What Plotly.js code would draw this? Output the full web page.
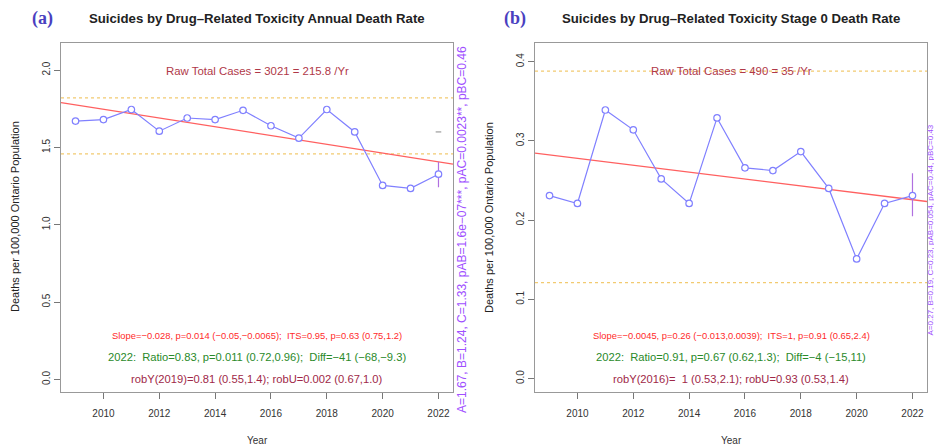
<!DOCTYPE html>
<html><head><meta charset="utf-8">
<script src="https://cdn.plot.ly/plotly-3.0.1.min.js"></script>
<style>html,body{margin:0;padding:0;background:#fff;}#chart{width:934px;height:446px;}</style>
</head><body><div id="chart"></div>
<script>
// ---- data ----
const years = [2009,2010,2011,2012,2013,2014,2015,2016,2017,2018,2019,2020,2021,2022];
const annualRate = [1.67,1.68,1.745,1.605,1.69,1.68,1.74,1.64,1.56,1.745,1.60,1.254,1.235,1.327];
const stage0Rate = [0.231,0.221,0.339,0.314,0.252,0.221,0.329,0.266,0.2625,0.2865,0.240,0.151,0.221,0.231];
const trendYears = [2008.48, 2022.52];
const annualTrend = [1.79, 1.392];
const stage0Trend = [0.2845, 0.2235];
const annualBands = [1.82, 1.458];
const stage0Bands = [0.388, 0.121];
const ciYear = [2022, 2022];
const annualCI2022 = [1.243, 1.405];
const stage0CI2022 = [0.205, 0.259];
const annualExpected2022 = [1.60];
const xTickVals = [2010,2012,2014,2016,2018,2020,2022];
const annualYTicks = [0.0,0.5,1.0,1.5,2.0];
const annualYLabels = ["0.0","0.5","1.0","1.5","2.0"];
const stage0YTicks = [0.0,0.1,0.2,0.3,0.4];
const stage0YLabels = ["0.0","0.1","0.2","0.3","0.4"];

const titles = ["Suicides by Drug\u2013Related Toxicity Annual Death Rate",
                "Suicides by Drug\u2013Related Toxicity Stage 0 Death Rate"];
const panelLabels = ["(a)", "(b)"];
const rawText = ["Raw Total Cases = 3021 = 215.8 /Yr", "Raw Total Cases = 490 = 35 /Yr"];
const slopeText = ["Slope=\u22120.028, p=0.014 (\u22120.05,\u22120.0065);  ITS=0.95, p=0.63 (0.75,1.2)",
                   "Slope=\u22120.0045, p=0.26 (\u22120.013,0.0039);  ITS=1, p=0.91 (0.65,2.4)"];
const ratioText = ["2022:  Ratio=0.83, p=0.011 (0.72,0.96);  Diff=\u221241 (\u221268,\u22129.3)",
                   "2022:  Ratio=0.91, p=0.67 (0.62,1.3);  Diff=\u22124 (\u221215,11)"];
const robText = ["robY(2019)=0.81 (0.55,1.4); robU=0.002 (0.67,1.0)",
                 "robY(2016)=  1 (0.53,2.1); robU=0.93 (0.53,1.4)"];
const sideText = ["A=1.67, B=1.24, C=1.33, pAB=1.6e\u221207***, pAC=0.0023**, pBC=0.46",
                  "A=0.27, B=0.19, C=0.23, pAB=0.054, pAC=0.44, pBC=0.43"];

// ---- geometry helpers ----
const W = 934, H = 446;
const px = v => v / W;
const py = v => 1 - v / H;

const ptColor = '#8080ff';
const traces = [];
function panel(xa, ya, vals, trend, bands, ci) {
  bands.forEach(b => traces.push({x: trendYears, y: [b, b], xaxis: xa, yaxis: ya, mode: 'lines',
    line: {color: '#f2ca70', width: 1.2, dash: 'dot'}, hoverinfo: 'skip', showlegend: false}));
  traces.push({x: trendYears, y: trend, xaxis: xa, yaxis: ya, mode: 'lines',
    line: {color: '#ff6060', width: 1.3}, showlegend: false});
  traces.push({x: ciYear, y: ci, xaxis: xa, yaxis: ya, mode: 'lines',
    line: {color: '#b070e0', width: 1.2}, showlegend: false});
  traces.push({x: years, y: vals, xaxis: xa, yaxis: ya, mode: 'lines+markers',
    line: {color: ptColor, width: 1.2},
    marker: {symbol: 'circle', size: 6.5, color: '#ffffff', line: {color: ptColor, width: 1.2}},
    showlegend: false});
}
panel('x', 'y', annualRate, annualTrend, annualBands, annualCI2022);
panel('x2', 'y2', stage0Rate, stage0Trend, stage0Bands, stage0CI2022);
traces.push({x: [2022], y: annualExpected2022, xaxis: 'x', yaxis: 'y', mode: 'markers',
  marker: {symbol: 'line-ew', size: 4, line: {color: '#888', width: 1}}, showlegend: false});

const yDom = [py(391.5), py(43)];
function xa(l, r) {
  return {domain: [px(l), px(r)], range: [2008.48, 2022.52], tickmode: 'array', tickvals: xTickVals,
    ticks: 'outside', ticklen: 6, tickcolor: '#777', showline: true, mirror: true,
    linecolor: '#999', linewidth: 1.3, showgrid: false, zeroline: false,
    tickfont: {family: 'Liberation Sans, Arial', size: 10, color: '#333'}, ticklabelstandoff: 6};
}
function ya(rng, tv, tt, anchor) {
  return {domain: yDom, range: rng, tickmode: 'array', tickvals: tv, ticktext: tt, tickangle: -90,
    ticks: 'outside', ticklen: 6, tickcolor: '#777', showline: true, mirror: true,
    linecolor: '#999', linewidth: 1.3, showgrid: false, zeroline: false, anchor: anchor,
    tickfont: {family: 'Liberation Sans, Arial', size: 10, color: '#333'}};
}

const ann = [];
const centers = [257, 731];
const F = 'Liberation Sans, Arial, sans-serif';
function t(x, y, text, size, color, extra) {
  ann.push(Object.assign({xref: 'paper', yref: 'paper', x: px(x), y: py(y), text: text,
    showarrow: false, xanchor: 'center', yanchor: 'middle',
    font: {family: F, size: size, color: color}}, extra || {}));
}
for (let i = 0; i < 2; i++) {
  const c = centers[i];
  t(c, 18, '<b>' + titles[i] + '</b>', 13.2, '#222');
  t(i === 0 ? 42 : 515, 18, '<b>' + panelLabels[i] + '</b>', 18, '#4040c0',
    {font: {family: 'Liberation Serif, DejaVu Serif, serif', size: 18, color: '#4a3fc0'}});
  t(c, 70.5, rawText[i], 11.4, '#b03848');
  t(c, 335, slopeText[i], 9.4, '#ff2a2a');
  t(c, 356.5, ratioText[i], 11.2, '#2a8a2a');
  t(c, 379, robText[i], 11.2, '#a02848');
  t(c, 440, 'Year', 10, '#333');
  t(i === 0 ? 15 : 489, 217, 'Deaths per 100,000 Ontario Population', 11, '#222', {textangle: -90});
}
t(462, 230, sideText[0], 12, '#a050ff', {textangle: -90});
t(929.5, 230, sideText[1], 8, '#a050ff', {textangle: -90});

const layout = {
  width: W, height: H, margin: {l: 0, r: 0, t: 0, b: 0},
  paper_bgcolor: '#fff', plot_bgcolor: '#fff', showlegend: false,
  xaxis: Object.assign(xa(61, 453), {anchor: 'y'}),
  yaxis: ya([-0.078, 2.175], annualYTicks, annualYLabels, 'x'),
  xaxis2: Object.assign(xa(535, 927), {anchor: 'y2'}),
  yaxis2: ya([-0.0164, 0.4236], stage0YTicks, stage0YLabels, 'x2'),
  annotations: ann
};
Plotly.newPlot('chart', traces, layout, {staticPlot: true, displayModeBar: false});
</script></body></html>
